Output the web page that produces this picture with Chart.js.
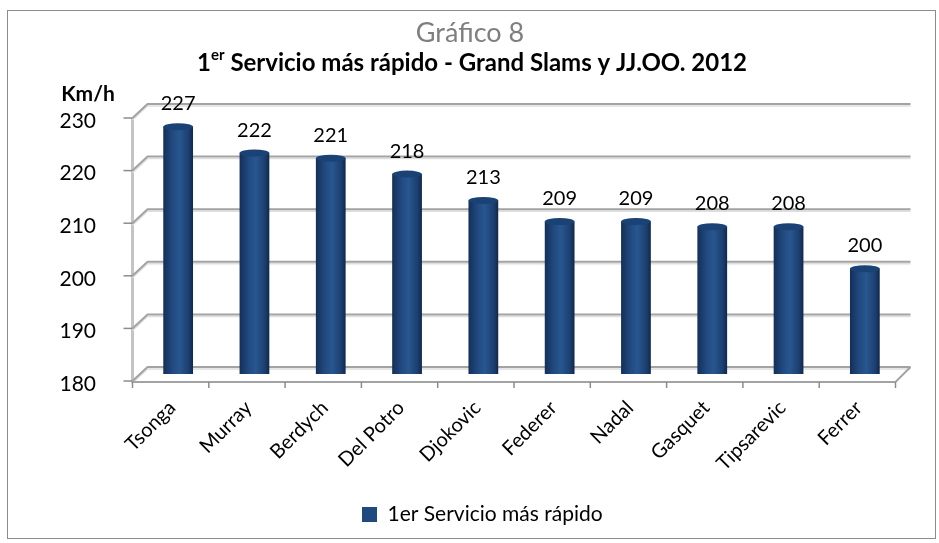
<!DOCTYPE html>
<html>
<head>
<meta charset="utf-8">
<script src="https://cdn.jsdelivr.net/npm/chart.js@4.4.0/dist/chart.umd.min.js"></script>
<style>
    html, body { margin: 0; padding: 0; background: #fff; }
    #wrap { width: 939px; height: 543px; }
</style>
</head>
<body>
<div id="wrap"><canvas id="chart" width="939" height="543"></canvas></div>
<script>
const players = ['Tsonga', 'Murray', 'Berdych', 'Del Potro', 'Djokovic', 'Federer', 'Nadal', 'Gasquet', 'Tipsarevic', 'Ferrer'];
const fastestServe = [227, 222, 221, 218, 213, 209, 209, 208, 208, 200];
const seriesName = '1er Servicio más rápido';
const yMin = 180;
const yMax = 230;

const FONT = 'Lato, "Open Sans", sans-serif';
const DEPTH_X = 7.5;   // half of the fake 3D depth
const DEPTH_Y = 7;

// cylinder-ish shading across each bar
function barGradient(context) {
    const chart = context.chart;
    const xs = chart.scales.x;
    if (!xs || !xs.width) return '#1f4a80';
    const w = xs.width / players.length * 0.39;
    const cx = xs.getPixelForValue(context.dataIndex);
    const g = chart.ctx.createLinearGradient(cx - w / 2, 0, cx + w / 2, 0);
    g.addColorStop(0, '#142f58');
    g.addColorStop(0.3, '#21497f');
    g.addColorStop(0.55, '#28568f');
    g.addColorStop(0.85, '#1c3f70');
    g.addColorStop(1, '#10284a');
    return g;
}

const frameAndTitles = {
    id: 'frameAndTitles',
    beforeDraw(chart) {
        const ctx = chart.ctx;
        ctx.save();
        ctx.fillStyle = '#fff';
        ctx.fillRect(0, 0, chart.width, chart.height);
        ctx.strokeStyle = '#8c8c8c';
        ctx.lineWidth = 1;
        ctx.strokeRect(7.5, 10.5, 928, 528);
        ctx.restore();
    },
    afterLayout(chart) {
        // legend sits a bit right of the plot centre in the original
        const lg = chart.legend;
        if (lg) { lg.left += 352; lg.right += 352; }
    },
    afterDraw(chart) {
        const ctx = chart.ctx;
        ctx.save();
        ctx.textBaseline = 'middle';
        ctx.textAlign = 'center';
        ctx.fillStyle = '#7f7f7f';
        ctx.font = '27px ' + FONT;
        ctx.fillText('Gráfico 8', 470, 33);

        // main title with superscript "er"
        ctx.fillStyle = '#000';
        const big = 'bold 24px ' + FONT;
        const small = 'bold 15px ' + FONT;
        const parts = [['1', big, 0], ['er', small, -8], [' Servicio más rápido - Grand Slams y JJ.OO. 2012', big, 0]];
        let total = 0;
        parts.forEach(p => { ctx.font = p[1]; total += ctx.measureText(p[0]).width; });
        let x = 472 - total / 2;
        ctx.textAlign = 'left';
        parts.forEach(p => {
            ctx.font = p[1];
            ctx.fillText(p[0], x, 63 + p[2]);
            x += ctx.measureText(p[0]).width;
        });

        ctx.textAlign = 'center';
        ctx.font = 'bold 21px ' + FONT;
        ctx.fillText('Km/h', 88, 94);
        ctx.restore();
    }
};

// back wall gridlines, side diagonals and floor, drawn with a small depth offset
const fake3d = {
    id: 'fake3d',
    beforeDatasetsDraw(chart) {
        const ctx = chart.ctx;
        const ys = chart.scales.y;
        const xs = chart.scales.x;
        const a = chart.chartArea;
        const fx = a.left - DEPTH_X, bx = a.left + DEPTH_X;
        ctx.save();
        ctx.lineCap = 'butt';
        const line = (pts, color, width) => {
            ctx.beginPath();
            ctx.strokeStyle = color;
            ctx.lineWidth = width;
            pts.forEach((p, i) => i ? ctx.lineTo(p[0], p[1]) : ctx.moveTo(p[0], p[1]));
            ctx.stroke();
        };
        // front vertical axis
        line([[fx, ys.getPixelForValue(yMax) + DEPTH_Y], [fx, a.bottom + DEPTH_Y + 2]], '#c4c4c4', 3);
        ys.ticks.forEach(t => {
            const y = ys.getPixelForValue(t.value);
            const pts = [[fx, y + DEPTH_Y], [bx, y - DEPTH_Y], [a.right + DEPTH_X, y - DEPTH_Y]];
            line(pts.map(p => [p[0], p[1] + 2]), '#dedede', 1.5);
            line(pts, '#a3a3a3', 2);
            line([[fx - 9, y + DEPTH_Y], [fx, y + DEPTH_Y]], '#8c8c8c', 1.5);
        });
        // floor front edge + right side
        const floorY = a.bottom + DEPTH_Y + 1;
        line([[fx, floorY], [a.right - DEPTH_X, floorY], [a.right + DEPTH_X, a.bottom - DEPTH_Y]], '#a3a3a3', 2);
        const step = xs.width / players.length;
        for (let i = 0; i <= players.length; i++) {
            const x = fx + i * step;
            line([[x, floorY], [x, floorY + 6]], '#8c8c8c', 1.5);
        }
        ctx.restore();
    }
};

const barCapsAndLabels = {
    id: 'barCapsAndLabels',
    afterDatasetsDraw(chart) {
        const ctx = chart.ctx;
        const meta = chart.getDatasetMeta(0);
        ctx.save();
        meta.data.forEach(bar => {
            const rx = bar.width / 2;
            ctx.beginPath();
            ctx.ellipse(bar.x, bar.base, rx, 3.5, 0, 0, Math.PI);
            ctx.fillStyle = '#173a68';
            ctx.fill();
            ctx.beginPath();
            ctx.ellipse(bar.x, bar.y, rx, 3.5, 0, 0, Math.PI * 2);
            ctx.fillStyle = '#1b4274';
            ctx.fill();
        });
        ctx.font = '20px ' + FONT;
        ctx.fillStyle = '#000';
        ctx.textAlign = 'center';
        ctx.textBaseline = 'middle';
        meta.data.forEach((bar, i) => {
            ctx.fillText(fastestServe[i], bar.x, bar.y - 23);
        });
        ctx.restore();
    }
};

new Chart(document.getElementById('chart'), {
    type: 'bar',
    data: {
        labels: players,
        datasets: [{
            label: seriesName,
            data: fastestServe,
            backgroundColor: barGradient,
            borderWidth: 0,
            categoryPercentage: 1,
            barPercentage: 0.39
        }]
    },
    options: {
        responsive: false,
        animation: false,
        layout: { padding: { top: 111, right: 36, bottom: 8, left: 0 } },
        plugins: {
            title: { display: false },
            tooltip: { enabled: false },
            legend: {
                position: 'bottom',
                align: 'start',
                labels: {
                    color: '#000',
                    font: { family: FONT, size: 21 },
                    boxWidth: 15,
                    boxHeight: 15,
                    padding: 10,
                    generateLabels: () => [{ text: seriesName, fillStyle: '#1f4a80', strokeStyle: '#1f4a80', lineWidth: 0, datasetIndex: 0 }]
                }
            }
        },
        scales: {
            x: {
                grid: { display: false },
                border: { display: false },
                ticks: {
                    color: '#000',
                    font: { family: FONT, size: 20 },
                    maxRotation: 45,
                    minRotation: 45,
                    padding: 14,
                    labelOffset: -6
                },
                afterFit: scale => { scale.height = 120; }
            },
            y: {
                min: yMin,
                max: yMax,
                grid: { display: false },
                border: { display: false },
                ticks: {
                    stepSize: 10,
                    color: '#000',
                    font: { family: FONT, size: 21 },
                    padding: 36,
                    labelOffset: 10
                },
                afterFit: scale => { scale.width = 140; }
            }
        }
    },
    plugins: [frameAndTitles, fake3d, barCapsAndLabels]
});
</script>
</body>
</html>
